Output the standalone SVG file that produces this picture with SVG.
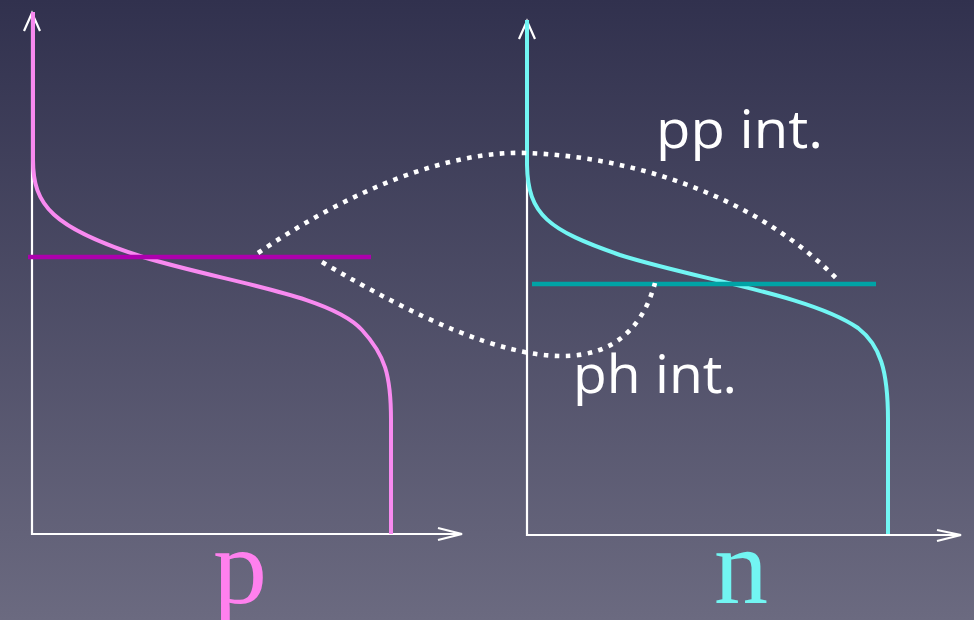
<svg xmlns="http://www.w3.org/2000/svg" width="974" height="620" viewBox="0 0 974 620">
<defs>
<linearGradient id="bg" x1="0" y1="0" x2="0" y2="1">
<stop offset="0" stop-color="#31314e"/>
<stop offset="1" stop-color="#6b6a80"/>
</linearGradient>
</defs>
<style>
.axis{fill:none;stroke:#ffffff;stroke-width:2.2}
.arr{fill:none;stroke:#ffffff;stroke-width:2.2;stroke-linejoin:miter}
.dot{fill:none;stroke:#ffffff;stroke-width:4.6;stroke-dasharray:4.6 6.4}
.lbl{font-family:"Open Sans","Lato",sans-serif;fill:#ffffff;font-size:53px}
.big{font-family:"Liberation Serif","Times New Roman",serif;font-size:108px}
</style>
<rect width="974" height="620" fill="url(#bg)"/>
<g id="p-plot">
<path class="axis" d="M32,13 V534 H462"/>
<path class="arr" d="M24,31 L32,13 L40,31"/>
<path class="arr" d="M438,528 L462,534 L438,540"/>
<path d="M33,12 V160 C33,205 52,228 143,257 C225,282 330,295 362,330 C385,355 391,375 391,420 V534" fill="none" stroke="#f88af0" stroke-width="4"/>
<line x1="28" y1="257" x2="371" y2="257" stroke="#ad00ad" stroke-width="4.5"/>
<text class="big" x="240" y="603" text-anchor="middle" fill="#ff80ee">p</text>
</g>
<g id="n-plot">
<path class="axis" d="M527,21 V535 H961"/>
<path class="arr" d="M519,39 L527,21 L535,39"/>
<path class="arr" d="M937,530 L961,535 L937,541"/>
<path d="M527,20 V165 C528,215 548,230 620,255 C700,280 810,295 858,328 C880,345 888,370 888,420 V534" fill="none" stroke="#72f6f4" stroke-width="4"/>
<line x1="532" y1="284" x2="876" y2="284" stroke="#00a3a6" stroke-width="4.5"/>
<text class="big" x="741" y="603" text-anchor="middle" fill="#72f5f2">n</text>
</g>
<g id="connectors">
<path class="dot" d="M258,253 C350,190 450,150 527,153 C640,157 760,200 838,280"/>
<path class="dot" d="M322,262 C420,320 500,355 560,356 C620,357 645,320 655,283"/>
</g>
<g id="labels">
<text class="lbl" x="656" y="148" textLength="167" lengthAdjust="spacingAndGlyphs">pp int.</text>
<text class="lbl" x="573" y="393" textLength="164" lengthAdjust="spacingAndGlyphs">ph int.</text>
</g>
</svg>
